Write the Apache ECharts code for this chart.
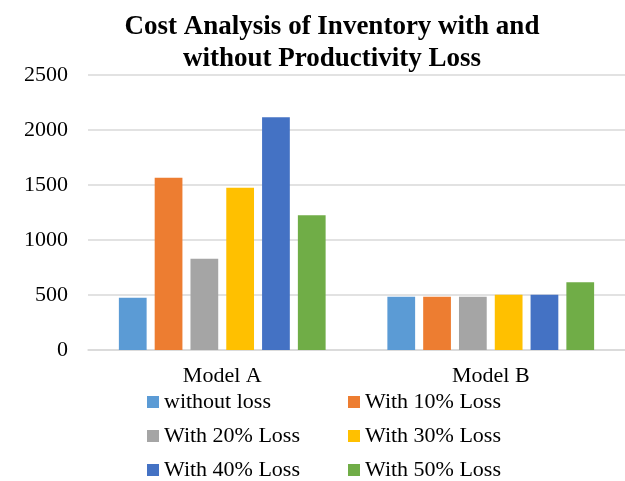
<!DOCTYPE html>
<html>
<head>
<meta charset="utf-8">
<script src="https://cdn.jsdelivr.net/npm/echarts@6/dist/echarts.min.js"></script>
<style>
  html, body { margin: 0; padding: 0; background: #fff; }
  #main { width: 625px; height: 481px; }
</style>
</head>
<body>
<div id="main"></div>
<script>
// 数据
var categories = ['Model A', 'Model B']
var seriesNames = ['without loss', 'With 10% Loss', 'With 20% Loss', 'With 30% Loss', 'With 40% Loss', 'With 50% Loss']
var withoutLoss = [475, 485]
var loss10 = [1565, 485]
var loss20 = [830, 485]
var loss30 = [1475, 503]
var loss40 = [2115, 503]
var loss50 = [1225, 615]
var colors = ['#5B9BD5', '#ED7D31', '#A5A5A5', '#FFC000', '#4472C4', '#70AD47']

var allValues = [withoutLoss, loss10, loss20, loss30, loss40, loss50]

var dom = document.getElementById('main')
var myChart = echarts.init(dom)

var font = 'Liberation Serif, Times New Roman, serif'

// 图例: 两列三行
var legendPos = [
  [147, 391], [348, 391],
  [147, 425], [348, 425],
  [147, 459], [348, 459]
]
var legends = []
var series = []
for (var i = 0; i < seriesNames.length; i++) {
  legends.push({
    data: [seriesNames[i]],
    left: legendPos[i][0],
    top: legendPos[i][1],
    padding: 0,
    itemWidth: 12,
    itemHeight: 12,
    icon: 'rect',
    itemStyle: { borderWidth: 0 },
    textStyle: { fontFamily: font, fontSize: 22, color: '#000', padding: [0, 0, 0, 0] },
    selectedMode: false
  })
  series.push({
    name: seriesNames[i],
    type: 'bar',
    data: allValues[i],
    barGap: '29%',
    barCategoryGap: '23%',
    itemStyle: { color: colors[i] },
    emphasis: { disabled: true }
  })
}

var option = {
  animation: false,
  color: colors,
  title: {
    text: 'Cost Analysis of Inventory with and\nwithout Productivity Loss',
    left: 327,
    textAlign: 'center',
    top: 6,
    textStyle: { fontFamily: font, fontSize: 27, fontWeight: 'bold', color: '#000', lineHeight: 32 }
  },
  legend: legends,
  grid: { left: 88, right: 0, top: 75, bottom: 131, containLabel: false },
  xAxis: {
    type: 'category',
    data: categories,
    axisLine: { lineStyle: { color: '#d9d9d9', width: 1.5 } },
    axisTick: { show: false },
    axisLabel: { fontFamily: font, fontSize: 22, color: '#000', margin: 15 }
  },
  yAxis: {
    type: 'value',
    min: 0,
    max: 2500,
    interval: 500,
    axisLine: { show: false },
    axisTick: { show: false },
    splitLine: { lineStyle: { color: '#d9d9d9', width: 1.5 } },
    axisLabel: {
      fontFamily: font, fontSize: 22, color: '#000', margin: 20,
      formatter: function (v) { return String(v) }
    }
  },
  series: series
}

myChart.setOption(option)
window.addEventListener('resize', myChart.resize)
</script>
</body>
</html>
